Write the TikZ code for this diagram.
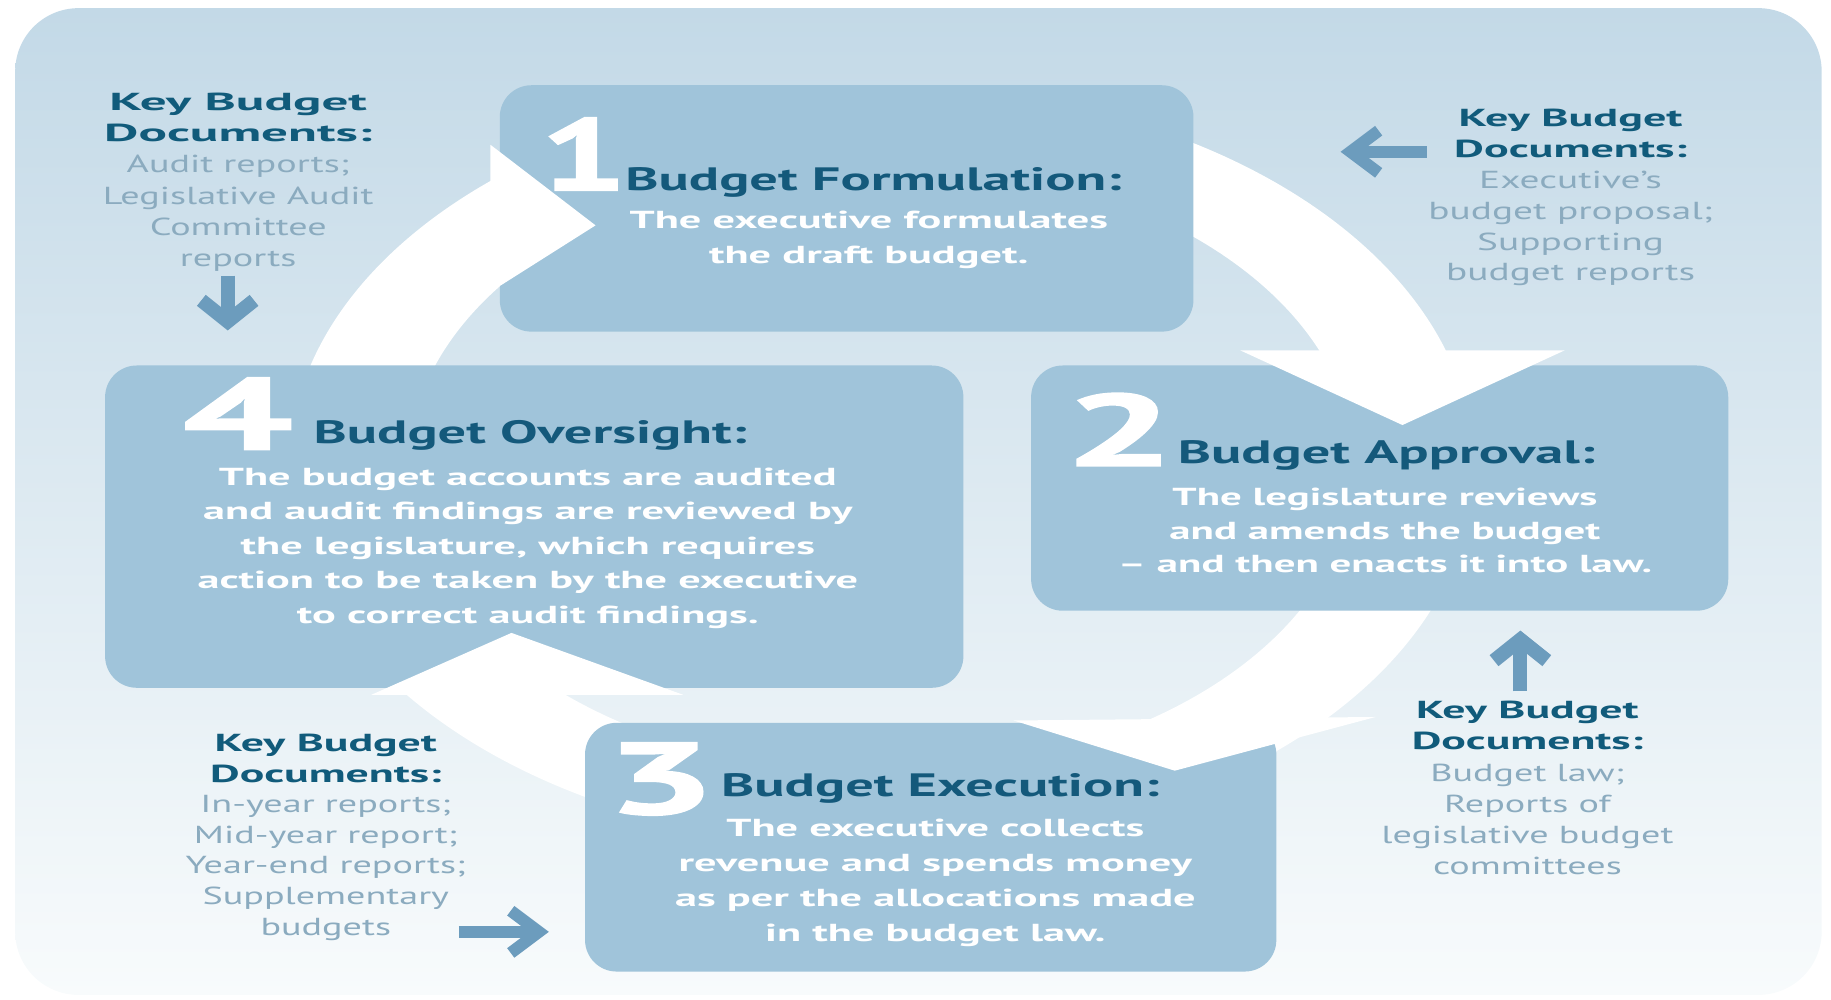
\documentclass[tikz,border=0pt]{standalone}
\usepackage{fontspec}
\setmainfont{PT Sans}
\newfontfamily\numfont[FakeBold=1.5]{PT Sans Bold}
\usepackage{graphicx}
\usetikzlibrary{arrows.meta}
\definecolor{bgtop}{HTML}{C3D9E7}
\definecolor{bgbot}{HTML}{F8FBFC}
\definecolor{boxc}{HTML}{A0C4DA}
\definecolor{headc}{HTML}{14597B}
\definecolor{keyc}{HTML}{115B7B}
\definecolor{listc}{HTML}{8BABBF}
\definecolor{arrc}{HTML}{6C9CBD}
\newcommand\sx[2]{\scalebox{#1}[1]{#2}}
\newcommand\lines[3]{\fontsize{#1}{#2}\selectfont\begin{tabular}{@{}c@{}}#3\end{tabular}}
\newcommand\kh[2][1.2]{\scalebox{#1}[1]{\textcolor{keyc}{\bfseries #2}}}
\def\dunit{0.01168cm}
\begin{document}
\begin{tikzpicture}[x=0.01168cm, y=-0.01168cm,
  box/.style={fill=boxc, rounded corners=9pt, inner sep=0pt, draw=none},
  num/.style={text=white, font=\fontsize{29}{29}\numfont, inner sep=0pt, anchor=base west},
  head/.style={text=headc, font=\fontsize{9.2}{9.2}\selectfont\bfseries, inner sep=0pt, anchor=base west},
  body/.style={text=white, font=\bfseries, inner sep=0pt, anchor=north},
  key/.style={text=listc, inner sep=0pt, anchor=north},
  ring/.style={fill=white},
  varrow/.style={draw=arrc, line width=4pt, -{Straight Barb[length=6pt, width=15pt]}},
  harrow/.style={draw=arrc, line width=3.4pt, -{Straight Barb[length=8pt, width=12pt]}}]
\useasboundingbox (0,0) rectangle (1568,856);
% background
\shade[top color=bgtop, bottom color=bgbot, rounded corners=18pt] (13,7) rectangle (1560,852);
% ring
\fill[ring, even odd rule] (755,400) ellipse [x radius=5.922cm, y radius=3.808cm]
                            (755,400) ellipse [x radius=4.730cm, y radius=3.060cm];
% boxes
\node[box, minimum width=594*\dunit, minimum height=211*\dunit] (b1) at (725,178.5) {};
\node[box, minimum width=597*\dunit, minimum height=210*\dunit] (b2) at (1181.5,418) {};
\node[box, minimum width=735*\dunit, minimum height=276*\dunit] (b4) at (457.5,451) {};
\node[box, minimum width=592*\dunit, minimum height=213*\dunit] (b3) at (797,725.5) {};
% arrowheads
\fill[ring] (420,124) -- (510,193) -- (420,250) -- cycle;
\fill[ring] (1062,300) -- (1201,364) -- (1340,300) -- cycle;
\fill[ring] (868,617) -- (1006,660) -- (1178,614) -- cycle;
\fill[ring] (318,595) -- (438,542) -- (585,595) -- cycle;
% numbers
\node[num] (n1) at (462,163) {\sx{1.5}{1}};
\node[num] (n2) at (911,399) {\sx{1.9}{2}};
\node[num] (n4) at (156,385) {\sx{1.9}{4}};
\node[num] (n3) at (518,697) {\sx{1.9}{3}};
% headings
\node[head] (h1) at (535,163) {\sx{1.74}{Budget Formulation:}};
\node[head] (h2) at (1008,397) {\sx{1.74}{Budget Approval:}};
\node[head] (h4) at (268,380) {\sx{1.74}{Budget Oversight:}};
\node[head] (h3) at (617,682) {\sx{1.74}{Budget Execution:}};
% bodies
\node[body] (t1) at (744,174) {\sx{1.8}{\lines{7}{9.97pt}{The executive formulates\\the draft budget.}}};
\node[body] (t2) at (1186,411.7) {\sx{1.74}{\lines{7}{9.63pt}{The legislature reviews\\and amends the budget\\-- and then enacts it into law.}}};
\node[body] (t4) at (452,394.4) {\sx{1.8}{\lines{7}{9.8pt}{The budget accounts are audited\\and audit findings are reviewed by\\the legislature, which requires\\action to be taken by the executive\\to correct audit findings.}}};
\node[body] (t3) at (801,695) {\sx{1.8}{\lines{7}{9.97pt}{The executive collects\\revenue and spends money\\as per the allocations made\\in the budget law.}}};
% key documents
\node[key] (k1) at (204,75) {\sx{1.55}{\lines{7}{8.9pt}{\kh[1.39]{Key Budget}\\\kh[1.39]{Documents:}\\Audit reports;\\Legislative Audit\\Committee\\reports}}};
\node[key] (k2) at (1345,89.5) {\sx{1.6}{\lines{7}{8.77pt}{\kh[1.17]{Key Budget}\\\kh[1.17]{Documents:}\\Executive's\\budget proposal;\\Supporting\\budget reports}}};
\node[key] (k3) at (1308,596.4) {\sx{1.55}{\lines{7}{8.84pt}{\kh{Key Budget}\\\kh{Documents:}\\Budget law;\\Reports of\\legislative budget\\committees}}};
\node[key] (k4) at (279,624.7) {\sx{1.55}{\lines{7}{8.7pt}{\kh{Key Budget}\\\kh{Documents:}\\In-year reports;\\Mid-year report;\\Year-end reports;\\Supplementary\\budgets}}};
% small arrows
\coordinate (a1s) at (195,236); \coordinate (a1e) at (195,283);
\coordinate (a2s) at (1222,130); \coordinate (a2e) at (1148,130);
\coordinate (a3s) at (1302,592); \coordinate (a3e) at (1302,540);
\coordinate (a4s) at (393,798); \coordinate (a4e) at (470,798);
\draw[varrow] (a1s) -- (a1e);
\draw[harrow] (a2s) -- (a2e);
\draw[varrow] (a3s) -- (a3e);
\draw[harrow] (a4s) -- (a4e);
\end{tikzpicture}
\end{document}
